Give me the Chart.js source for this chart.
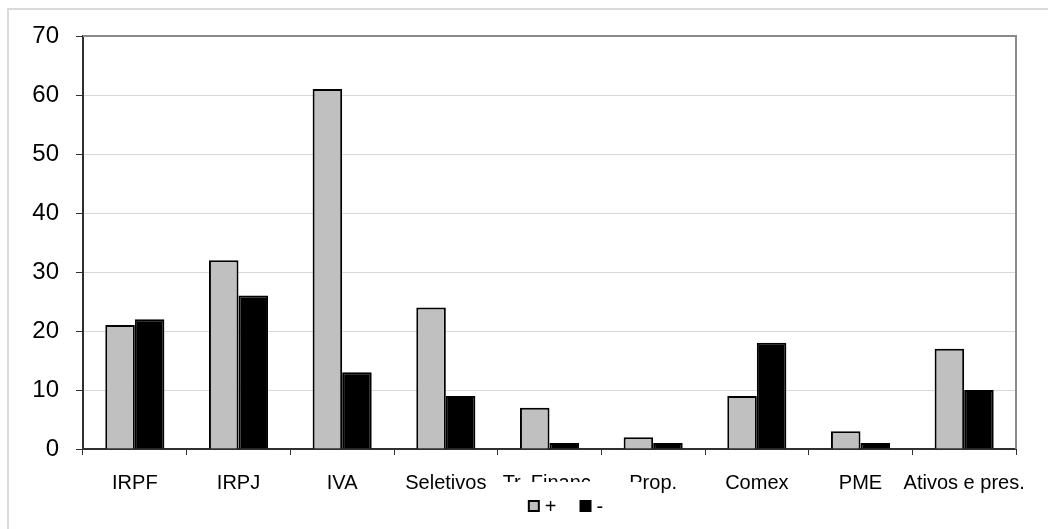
<!DOCTYPE html>
<html>
<head>
<meta charset="utf-8">
<script src="https://cdn.jsdelivr.net/npm/chart.js@4/dist/chart.umd.min.js"></script>
<style>
  html, body { margin: 0; padding: 0; background: #fff; overflow: hidden; }
  #wrap { position: relative; width: 1048px; height: 529px; overflow: hidden; }
  #frame { position: absolute; left: 7px; top: 8px; width: 1100px; height: 600px;
           border-left: 2px solid #dadada; border-top: 2px solid #dadada; }
  #c { position: absolute; left: 0; top: 0; }
</style>
</head>
<body>
<div id="wrap">
  <div id="frame"></div>
  <canvas id="c" width="1048" height="529"></canvas>
</div>
<script>
// Categories and the two series (+ / -)
const categories = ['IRPF', 'IRPJ', 'IVA', 'Seletivos', 'Tr. Financ.', 'Prop.', 'Comex', 'PME', 'Ativos e pres.'];
const positives  = [21, 32, 61, 24, 7, 2, 9, 3, 17];
const negatives  = [22, 26, 13, 9, 1, 1, 18, 1, 10];
const seriesNames = ['+', '-'];
const yMin = 0, yMax = 70, yStep = 10;

const FONT = "'Liberation Sans', Arial, sans-serif";

// Gray top/right frame of the plot area and a boxed legend below the axis
const plotDecor = {
  id: 'plotDecor',
  afterDatasetsDraw(chart) {
    const { ctx, chartArea: a } = chart;
    ctx.save();
    ctx.strokeStyle = '#8a8a8a';
    ctx.lineWidth = 2;
    ctx.beginPath();
    ctx.moveTo(a.left, a.top);
    ctx.lineTo(a.right, a.top);
    ctx.lineTo(a.right, a.bottom);
    ctx.stroke();
    ctx.restore();
  },
  afterDraw(chart) {
    const { ctx } = chart;
    const ds = chart.data.datasets;
    ctx.save();
    ctx.font = '20px ' + FONT;
    const box = 10, gap = 6, spacing = 24;
    const widths = ds.map(d => box + gap + ctx.measureText(d.label).width);
    const total = widths.reduce((s, w) => s + w, 0) + spacing * (ds.length - 1);
    const cx = 566, top = 482, boxW = 148;
    ctx.fillStyle = '#fff';
    ctx.fillRect(cx - boxW / 2, top, boxW, 60);
    let x = cx - total / 2;
    const cy = 506;
    ds.forEach((d, i) => {
      ctx.fillStyle = d.backgroundColor;
      ctx.fillRect(x, cy - box / 2, box, box);
      ctx.strokeStyle = '#000';
      ctx.lineWidth = 2;
      ctx.strokeRect(x, cy - box / 2, box, box);
      ctx.fillStyle = '#000';
      ctx.textBaseline = 'middle';
      ctx.textAlign = 'left';
      ctx.fillText(d.label, x + box + gap, cy + 1);
      x += widths[i] + spacing;
    });
    ctx.restore();
  }
};

new Chart(document.getElementById('c'), {
  type: 'bar',
  data: {
    labels: categories,
    datasets: [
      { label: seriesNames[0], data: positives, backgroundColor: '#c0c0c0',
        borderColor: '#000', borderWidth: 2, borderSkipped: 'bottom' },
      { label: seriesNames[1], data: negatives, backgroundColor: '#000',
        borderColor: '#000', borderWidth: 2, borderSkipped: 'bottom' }
    ]
  },
  options: {
    responsive: false,
    animation: false,
    devicePixelRatio: 1,
    layout: { padding: { top: 36, left: 0, right: 32, bottom: 0 } },
    datasets: { bar: { categoryPercentage: 0.57, barPercentage: 1.0 } },
    plugins: { legend: { display: false }, tooltip: { enabled: false } },
    scales: {
      x: {
        offset: true,
        grid: { offset: true, drawOnChartArea: false, drawTicks: true,
                tickLength: 6, tickColor: '#303030', tickWidth: 1 },
        border: { color: '#303030', width: 2 },
        ticks: { autoSkip: false, maxRotation: 0, minRotation: 0, padding: 16,
                 color: '#000', font: { family: FONT, size: 20 } },
        afterFit(s) { s.height = 80; }
      },
      y: {
        min: yMin, max: yMax,
        grid: { color: '#d9d9d9', lineWidth: 1, drawTicks: true, tickLength: 7,
                tickColor: '#303030', tickWidth: 1 },
        border: { color: '#303030', width: 2 },
        ticks: { stepSize: yStep, padding: 17, color: '#000',
                 font: { family: FONT, size: 24 } },
        afterFit(s) { s.width = 83; }
      }
    }
  },
  plugins: [plotDecor]
});
</script>
</body>
</html>
